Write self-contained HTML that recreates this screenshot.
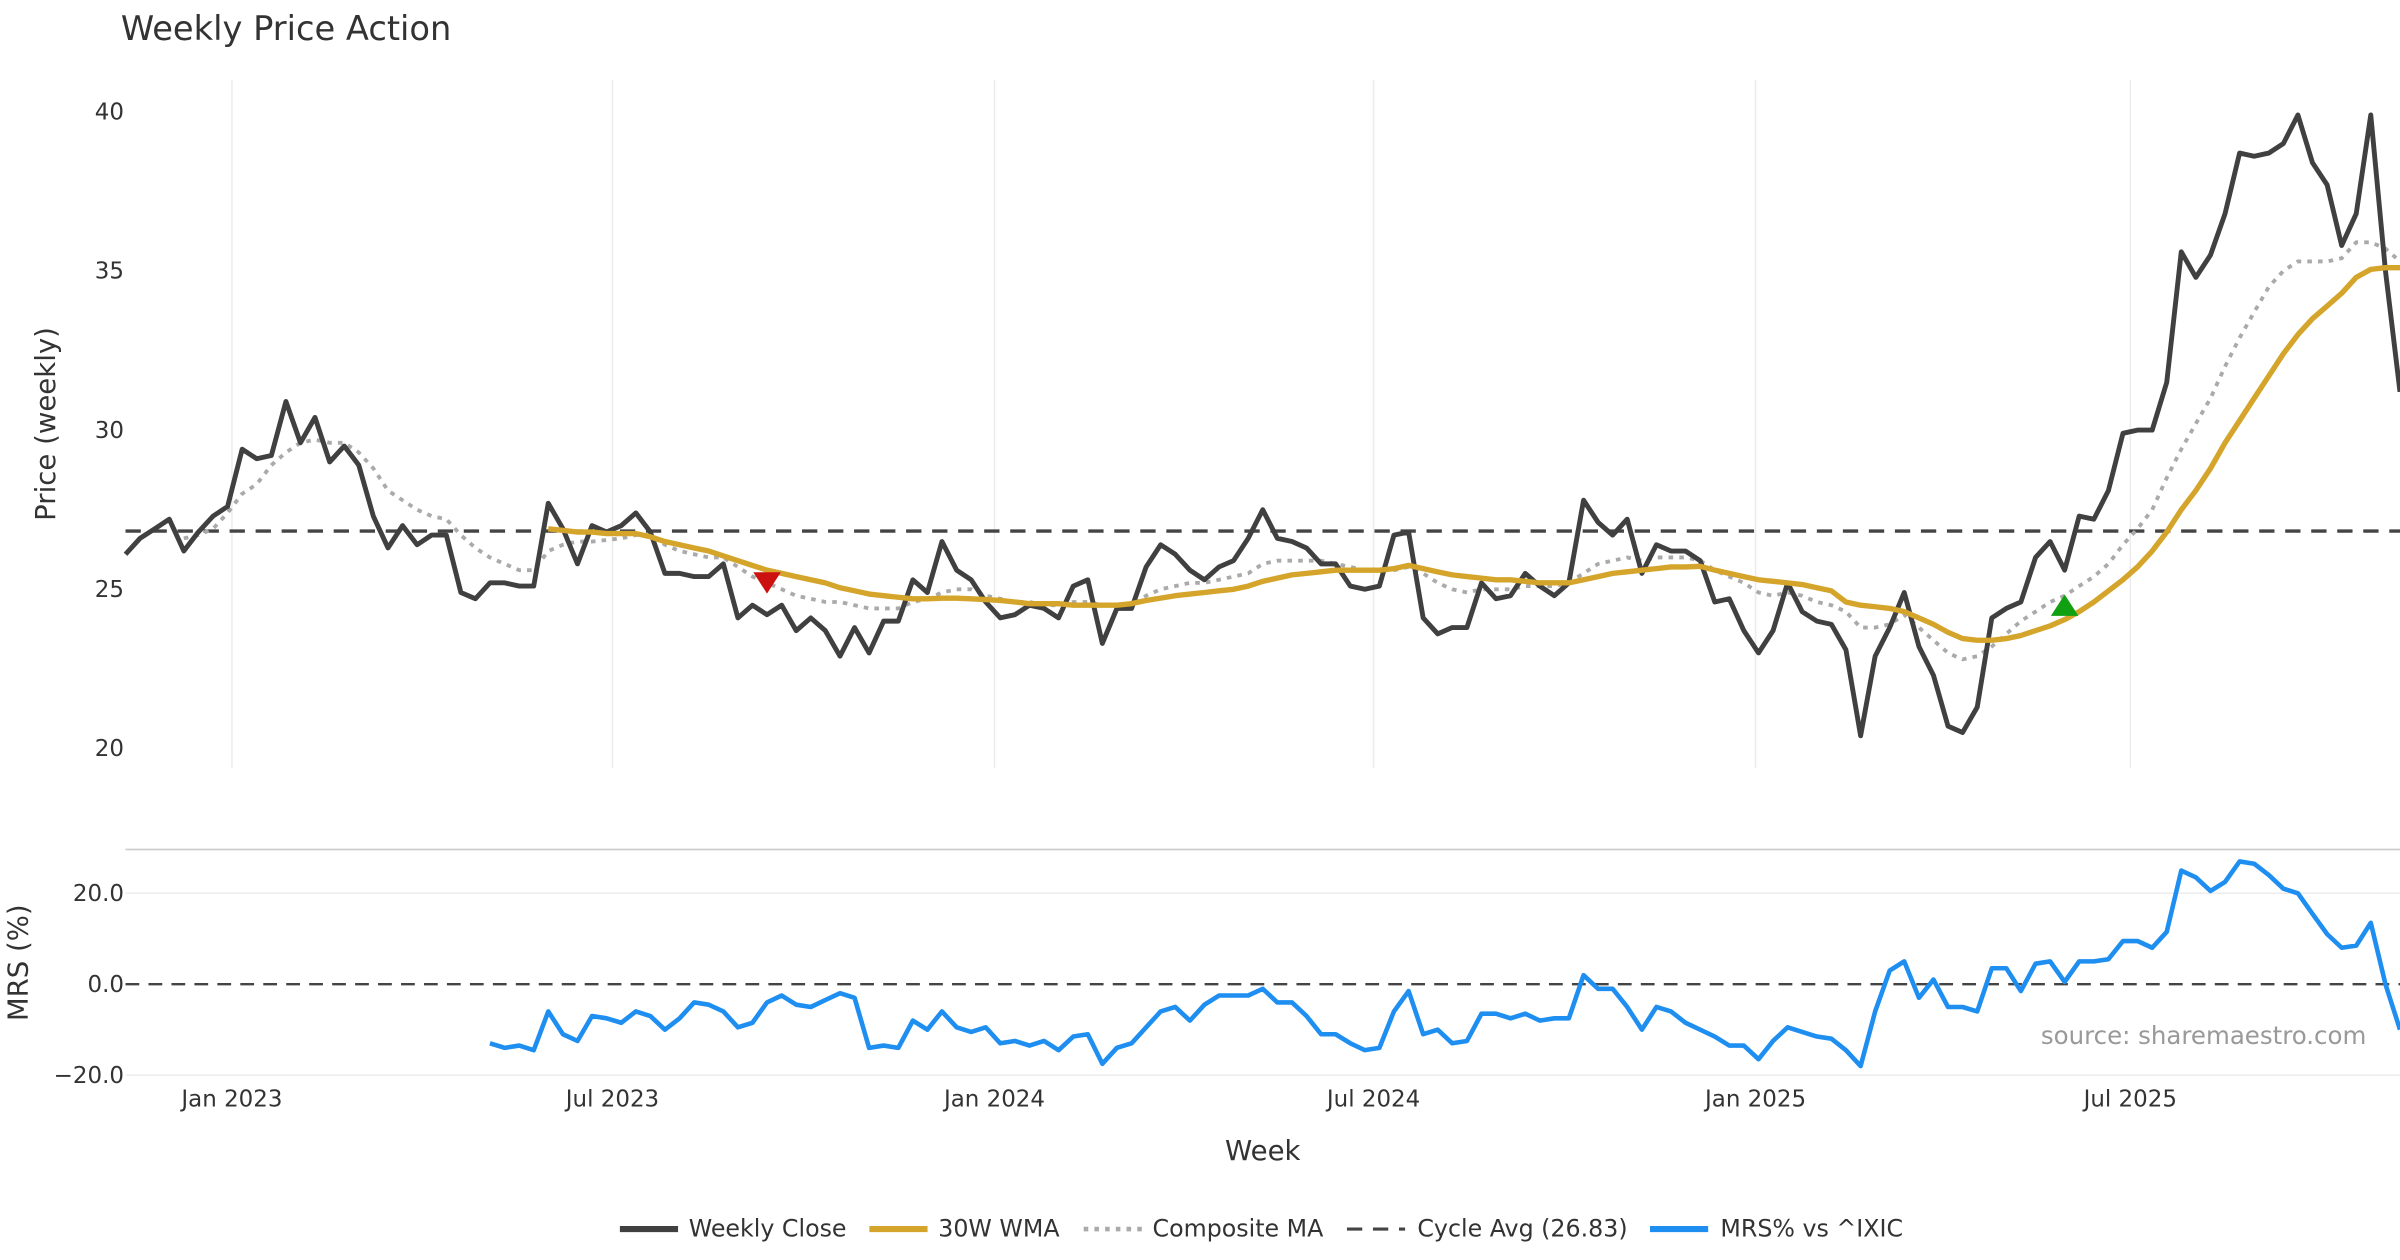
<!DOCTYPE html>
<html><head><meta charset="utf-8"><style>
html,body{margin:0;padding:0;background:#fff;}
svg{display:block;font-family:"DejaVu Sans","Liberation Sans",sans-serif;}
</style></head><body>
<svg id="chart" width="2400" height="1260" viewBox="0 0 1568 823.2" xmlns="http://www.w3.org/2000/svg">
<rect width="1568" height="823.2" fill="#fff"/>
<text x="79" y="26" font-size="22" fill="#333">Weekly Price Action</text>
<g id="grid"></g>
<g id="series"></g>
<g id="axes"></g>
<text transform="translate(36,277) rotate(-90)" text-anchor="middle" font-size="18" fill="#333">Price (weekly)</text>
<text transform="translate(18,629) rotate(-90)" text-anchor="middle" font-size="18" fill="#333">MRS (%)</text>
<text x="825" y="758" text-anchor="middle" font-size="18" fill="#333">Week</text>
<text x="1546" y="682" text-anchor="end" font-size="16" fill="#999">source: sharemaestro.com</text>
<g id="legend" font-size="15.5" fill="#333">
<g><line x1="405" y1="803" x2="443" y2="803" stroke="#404040" stroke-width="4"/><text x="450" y="808">Weekly Close</text></g>
<g><line x1="568" y1="803" x2="606" y2="803" stroke="#d4a52a" stroke-width="4"/><text x="613" y="808">30W WMA</text></g>
<g><line x1="708" y1="803" x2="746" y2="803" stroke="#aaa" stroke-width="3" stroke-dasharray="3,4"/><text x="753" y="808">Composite MA</text></g>
<g><line x1="880" y1="803" x2="918" y2="803" stroke="#444" stroke-width="2" stroke-dasharray="10,7"/><text x="926" y="808">Cycle Avg (26.83)</text></g>
<g><line x1="1078" y1="803" x2="1116" y2="803" stroke="#1e8ff0" stroke-width="4"/><text x="1124" y="808">MRS% vs ^IXIC</text></g>
</g>
</svg>
<script>
const closeVals=[26.1,26.6,26.9,27.2,26.2,26.8,27.3,27.6,29.4,29.1,29.2,30.9,29.6,30.4,29.0,29.5,28.9,27.3,26.3,27.0,26.4,26.7,26.7,24.9,24.7,25.2,25.2,25.1,25.1,27.7,26.9,25.8,27.0,26.8,27.0,27.4,26.8,25.5,25.5,25.4,25.4,25.8,24.1,24.5,24.2,24.5,23.7,24.1,23.7,22.9,23.8,23.0,24.0,24.0,25.3,24.9,26.5,25.6,25.3,24.6,24.1,24.2,24.5,24.4,24.1,25.1,25.3,23.3,24.4,24.4,25.7,26.4,26.1,25.6,25.3,25.7,25.9,26.6,27.5,26.6,26.5,26.3,25.8,25.8,25.1,25.0,25.1,26.7,26.8,24.1,23.6,23.8,23.8,25.2,24.7,24.8,25.5,25.1,24.8,25.2,27.8,27.1,26.7,27.2,25.5,26.4,26.2,26.2,25.9,24.6,24.7,23.7,23.0,23.7,25.2,24.3,24.0,23.9,23.1,20.4,22.9,23.8,24.9,23.2,22.3,20.7,20.5,21.3,24.1,24.4,24.6,26.0,26.5,25.6,27.3,27.2,28.1,29.9,30.0,30.0,31.5,35.6,34.8,35.5,36.8,38.7,38.6,38.7,39.0,39.9,38.4,37.7,35.8,36.8,39.9,35.0,31.2];
const wmaStart=29;
const wmaVals=[26.9,26.85,26.8,26.8,26.75,26.75,26.75,26.65,26.5,26.4,26.3,26.2,26.05,25.9,25.75,25.6,25.5,25.4,25.3,25.2,25.05,24.95,24.85,24.8,24.75,24.7,24.7,24.72,24.72,24.7,24.68,24.65,24.6,24.55,24.55,24.55,24.5,24.5,24.5,24.5,24.55,24.65,24.72,24.8,24.85,24.9,24.95,25.0,25.1,25.25,25.35,25.45,25.5,25.55,25.6,25.6,25.6,25.6,25.65,25.75,25.65,25.55,25.45,25.4,25.35,25.3,25.3,25.25,25.2,25.2,25.2,25.3,25.4,25.5,25.55,25.6,25.65,25.7,25.7,25.72,25.6,25.5,25.4,25.3,25.25,25.2,25.15,25.05,24.95,24.6,24.5,24.45,24.4,24.3,24.1,23.9,23.65,23.45,23.4,23.4,23.45,23.55,23.7,23.85,24.05,24.3,24.6,24.95,25.3,25.7,26.2,26.8,27.5,28.1,28.8,29.6,30.3,31.0,31.7,32.4,33.0,33.5,33.9,34.3,34.8,35.05,35.1,35.1];
const compStart=4;
const compVals=[26.6,26.7,26.9,27.4,28.0,28.3,28.9,29.3,29.6,29.7,29.6,29.6,29.3,28.8,28.1,27.8,27.5,27.3,27.2,26.7,26.3,26.0,25.8,25.6,25.6,26.2,26.4,26.5,26.5,26.55,26.6,26.7,26.7,26.4,26.2,26.1,26.0,26.0,25.7,25.4,25.2,25.0,24.8,24.7,24.6,24.6,24.5,24.4,24.4,24.4,24.6,24.7,24.9,25.0,25.0,24.8,24.7,24.6,24.6,24.5,24.5,24.6,24.6,24.5,24.5,24.5,24.8,25.0,25.1,25.2,25.2,25.3,25.4,25.5,25.8,25.9,25.9,25.9,25.9,25.8,25.7,25.6,25.6,25.6,25.7,25.5,25.2,25.0,24.9,25.0,25.0,25.0,25.1,25.1,25.1,25.2,25.5,25.8,25.9,26.0,25.9,26.0,26.0,26.0,25.9,25.6,25.4,25.2,24.9,24.8,24.9,24.8,24.6,24.5,24.3,23.8,23.8,23.9,24.2,23.8,23.4,23.0,22.8,22.9,23.2,23.6,24.0,24.3,24.6,24.8,25.1,25.4,25.8,26.4,26.9,27.5,28.5,29.4,30.2,31.0,32.0,32.9,33.7,34.5,35.0,35.3,35.3,35.3,35.4,35.9,35.9,35.7,35.3];
const mrsStart=25;
const mrsVals=[-13,-14,-13.5,-14.5,-6,-11,-12.5,-7,-7.5,-8.5,-6,-7,-10,-7.5,-4,-4.5,-6,-9.5,-8.5,-4,-2.5,-4.5,-5,-3.5,-2,-3,-14,-13.5,-14,-8,-10,-6,-9.5,-10.5,-9.5,-13,-12.5,-13.5,-12.5,-14.5,-11.5,-11,-17.5,-14,-13,-9.5,-6,-5,-8,-4.5,-2.5,-2.5,-2.5,-1,-4,-4,-7,-11,-11,-13,-14.5,-14,-6,-1.5,-11,-10,-13,-12.5,-6.5,-6.5,-7.5,-6.5,-8,-7.5,-7.5,2,-1,-1,-5,-10,-5,-6,-8.5,-10,-11.5,-13.5,-13.5,-16.5,-12.5,-9.5,-10.5,-11.5,-12,-14.5,-18,-6,3,5,-3,1,-5,-5,-6,3.5,3.5,-1.5,4.5,5,0.5,5,5,5.5,9.5,9.5,8,11.5,25,23.5,20.5,22.5,27,26.5,24,21,20,15.5,11,8,8.5,13.5,0,-10];
const cycleAvg=26.83;
const priceTicks=[20,25,30,35,40];
const mrsTicks=[-20,0,20];
const mrsTickLabels=["\u221220.0","0.0","20.0"];
const dateTickWeeks=[7.3,33.4,59.6,85.6,111.8,137.5];
const dateTickLabels=["Jan 2023","Jul 2023","Jan 2024","Jul 2024","Jan 2025","Jul 2025"];
const sellIdx=[44], sellVals=[25.2];
const buyIdx=[133], buyVals=[24.5];

const NS="http://www.w3.org/2000/svg";
const X0=82, X1=1568;
const step=(X1-X0)/(closeVals.length-1);
const xS=i=>X0+i*step;
const yP=v=>73+(40-v)*20.8;
const yM=v=>643-v*2.97;
function mk(tag,attrs,parent){const e=document.createElementNS(NS,tag);for(const k in attrs)e.setAttribute(k,attrs[k]);parent.appendChild(e);return e;}
const grid=document.getElementById('grid'),series=document.getElementById('series'),axes=document.getElementById('axes');
dateTickWeeks.forEach((w,k)=>{
  const x=xS(w);
  const g=mk('line',{x1:x,x2:x,y1:52,y2:502,stroke:'#ececec','stroke-width':1},grid);
  
  
  const t=mk('text',{x:x,y:723,'text-anchor':'middle','font-size':15,fill:'#333'},axes);
  t.textContent=dateTickLabels[k];
  
  
});
priceTicks.forEach(v=>{
  const t=mk('text',{x:81,y:yP(v)+5,'text-anchor':'end','font-size':15,fill:'#333'},axes);
  t.textContent=String(v);
  
  
});
const sep=mk('line',{x1:82,x2:1568,y1:555,y2:555,stroke:'#ccc','stroke-width':1.2},grid);


mrsTicks.forEach((v,k)=>{
  if(v!==0){const l=mk('line',{x1:82,x2:1568,y1:yM(v),y2:yM(v),stroke:'#ececec','stroke-width':1},grid);
  
  }
  const t=mk('text',{x:81,y:yM(v)+5,'text-anchor':'end','font-size':15,fill:'#333'},axes);
  t.textContent=mrsTickLabels[k];
  
  
});
function pathFrom(vals,start,yf){return vals.map((v,i)=>(i?'L':'M')+xS(i+start).toFixed(1)+','+yf(v).toFixed(1)).join('');}
const zero=mk('line',{x1:82,x2:1568,y1:yM(0),y2:yM(0),stroke:'#444','stroke-width':1.6,'stroke-dasharray':'9,6'},series);


const cyc=mk('line',{x1:82,x2:1568,y1:yP(cycleAvg),y2:yP(cycleAvg),stroke:'#444','stroke-width':2.2,'stroke-dasharray':'10,7'},series);


const comp=mk('path',{d:pathFrom(compVals,compStart,yP),fill:'none',stroke:'#aaa','stroke-width':2.5,'stroke-dasharray':'3,4'},series);


const cl=mk('path',{d:pathFrom(closeVals,0,yP),fill:'none',stroke:'#404040','stroke-width':3.2,'stroke-linejoin':'round'},series);


const wma=mk('path',{d:pathFrom(wmaVals,wmaStart,yP),fill:'none',stroke:'#d4a52a','stroke-width':3.5,'stroke-linejoin':'round'},series);


const mrs=mk('path',{d:pathFrom(mrsVals,mrsStart,yM),fill:'none',stroke:'#1e8ff0','stroke-width':3,'stroke-linejoin':'round'},series);


sellIdx.forEach((i,k)=>{const x=xS(i),y=yP(sellVals[k]);
  const p=mk('path',{d:`M${x-9},${y-7}L${x+9},${y-7}L${x},${y+7}Z`,fill:'#cc1111'},series);
  
  });
buyIdx.forEach((i,k)=>{const x=xS(i),y=yP(buyVals[k]);
  const p=mk('path',{d:`M${x-9},${y+7}L${x+9},${y+7}L${x},${y-7}Z`,fill:'#11a011'},series);
  
  });
</script>
</body></html>
